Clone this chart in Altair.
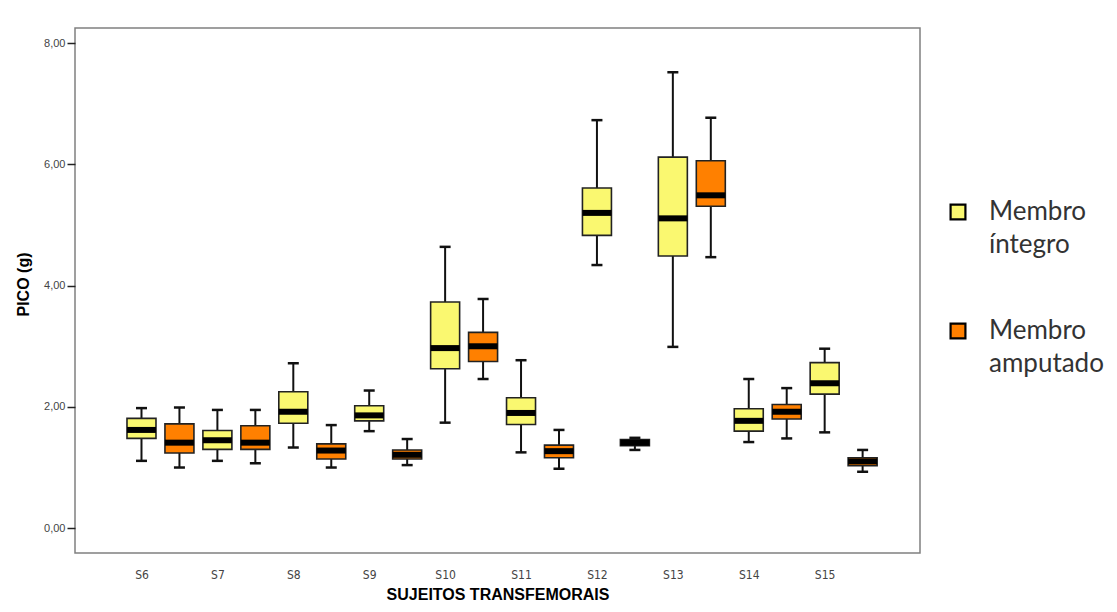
import json
import altair as alt
import pandas as pd

subjects = ["S6", "S7", "S8", "S9", "S10", "S11", "S12", "S13", "S14", "S15"]
groups = ["Membro íntegro", "Membro amputado"]

# (min, q1, median, q3, max) per subject
integro_min = [1.11, 1.11, 1.33, 1.60, 1.74, 1.25, 4.34, 2.99, 1.42, 1.58]
integro_q1 = [1.48, 1.30, 1.73, 1.77, 2.63, 1.71, 4.83, 4.49, 1.60, 2.21]
integro_med = [1.62, 1.45, 1.92, 1.86, 2.97, 1.90, 5.20, 5.11, 1.77, 2.39]
integro_q3 = [1.81, 1.61, 2.25, 2.02, 3.73, 2.15, 5.61, 6.12, 1.97, 2.73]
integro_max = [1.98, 1.95, 2.72, 2.27, 4.64, 2.77, 6.73, 7.52, 2.46, 2.96]

amput_min = [1.00, 1.07, 1.00, 1.04, 2.46, 0.98, 1.29, 4.47, 1.48, 0.93]
amput_q1 = [1.24, 1.30, 1.14, 1.14, 2.75, 1.16, 1.36, 5.31, 1.80, 1.03]
amput_med = [1.41, 1.41, 1.28, 1.21, 3.00, 1.27, 1.41, 5.49, 1.92, 1.10]
amput_q3 = [1.72, 1.69, 1.39, 1.29, 3.23, 1.37, 1.46, 6.06, 2.04, 1.16]
amput_max = [1.99, 1.95, 1.70, 1.47, 3.78, 1.62, 1.49, 6.77, 2.31, 1.29]

y_ticks = [0, 2, 4, 6, 8]

rows = []
for gi, (g, mn, q1, md, q3, mx) in enumerate([
    (groups[0], integro_min, integro_q1, integro_med, integro_q3, integro_max),
    (groups[1], amput_min, amput_q1, amput_med, amput_q3, amput_max),
]):
    for i, s in enumerate(subjects):
        rows.append({"sujeito": s, "grupo": g, "idx": i, "g": gi,
                     "min": mn[i], "q1": q1[i], "med": md[i], "q3": q3[i], "max": mx[i]})
df = pd.DataFrame(rows)

label_map = json.dumps(subjects)
narrow = "'Liberation Sans Narrow', 'DejaVu Sans Condensed', 'Liberation Sans', sans-serif"

x_enc = alt.X(
    "pos:Q",
    scale=alt.Scale(domain=[-0.81, 10.19], nice=False, zero=False),
    axis=alt.Axis(
        values=list(range(len(subjects))),
        labelExpr=f"{label_map}[datum.value]",
        title="SUJEITOS TRANSFEMORAIS",
        grid=False, domain=False, ticks=False, tickSize=0,
        labelPadding=16, labelFont=narrow, labelFontSize=12,
        labelColor="#444444", titleFont="Liberation Sans", titleFontSize=16,
        titleFontWeight="bold", titleColor="#000000", titlePadding=6,
    ),
)

yscale = alt.Scale(domain=[-0.41, 8.25], nice=False, zero=False)
yaxis = alt.Axis(
    values=y_ticks,
    labelExpr="replace(format(datum.value, '.2f'), '.', ',')",
    title="PICO (g)", grid=False, domain=False,
    tickSize=8, tickColor="#222222", tickWidth=1.5,
    labelPadding=2, labelFont="Liberation Sans", labelFontSize=11,
    labelColor="#444444", titleFont="Liberation Sans", titleFontSize=16,
    titleFontWeight="bold", titleColor="#000000", titlePadding=12,
    titleY=256,
)

def yenc(field):
    return alt.Y(f"{field}:Q", scale=yscale, axis=yaxis, title="PICO (g)")

base = alt.Chart(df).transform_calculate(pos="datum.idx + 0.5 * datum.g")

whisker = base.mark_rule(color="#111111", strokeWidth=2, opacity=1).encode(
    x=x_enc, y=yenc("min"), y2="max:Q"
)

box = base.mark_bar(size=29, stroke="#222222", strokeWidth=1.6, opacity=1).encode(
    x=x_enc,
    y=yenc("q1"),
    y2="q3:Q",
    color=alt.Color(
        "grupo:N",
        scale=alt.Scale(domain=groups, range=["#FAF870", "#FF8000"]),
        legend=alt.Legend(
            title=None, orient="none", legendX=870, legendY=171,
            symbolType="square", symbolSize=220, symbolStrokeColor="#000000",
            symbolStrokeWidth=2.2, symbolOpacity=1,
            labelFont="Lato", labelFontSize=26, labelColor="#333333",
            labelExpr="split(datum.label, ' ')",
            labelBaseline="middle", labelOffset=18, rowPadding=60,
            labelLimit=300,
        ),
    ),
)

median = base.mark_tick(orient="horizontal", size=29, thickness=6, color="#000000", opacity=1).encode(
    x=x_enc, y=yenc("med")
)

cap_lo = base.mark_tick(orient="horizontal", size=11, thickness=2.5, color="#111111", opacity=1).encode(
    x=x_enc, y=yenc("min")
)
cap_hi = base.mark_tick(orient="horizontal", size=11, thickness=2.5, color="#111111", opacity=1).encode(
    x=x_enc, y=yenc("max")
)

chart = (
    alt.layer(whisker, box, median, cap_lo, cap_hi)
    .properties(
        width=845, height=525,
        autosize=alt.AutoSizeParams(type="none"),
        padding={"left": 67, "top": 20, "right": 188, "bottom": 51},
    )
    .configure(style={"guide-label": {"lineHeight": 33}})
    .configure_view(stroke="#808080", strokeWidth=1.5)
)

chart.save("out.html", embed_options={"renderer": "svg", "actions": False})
